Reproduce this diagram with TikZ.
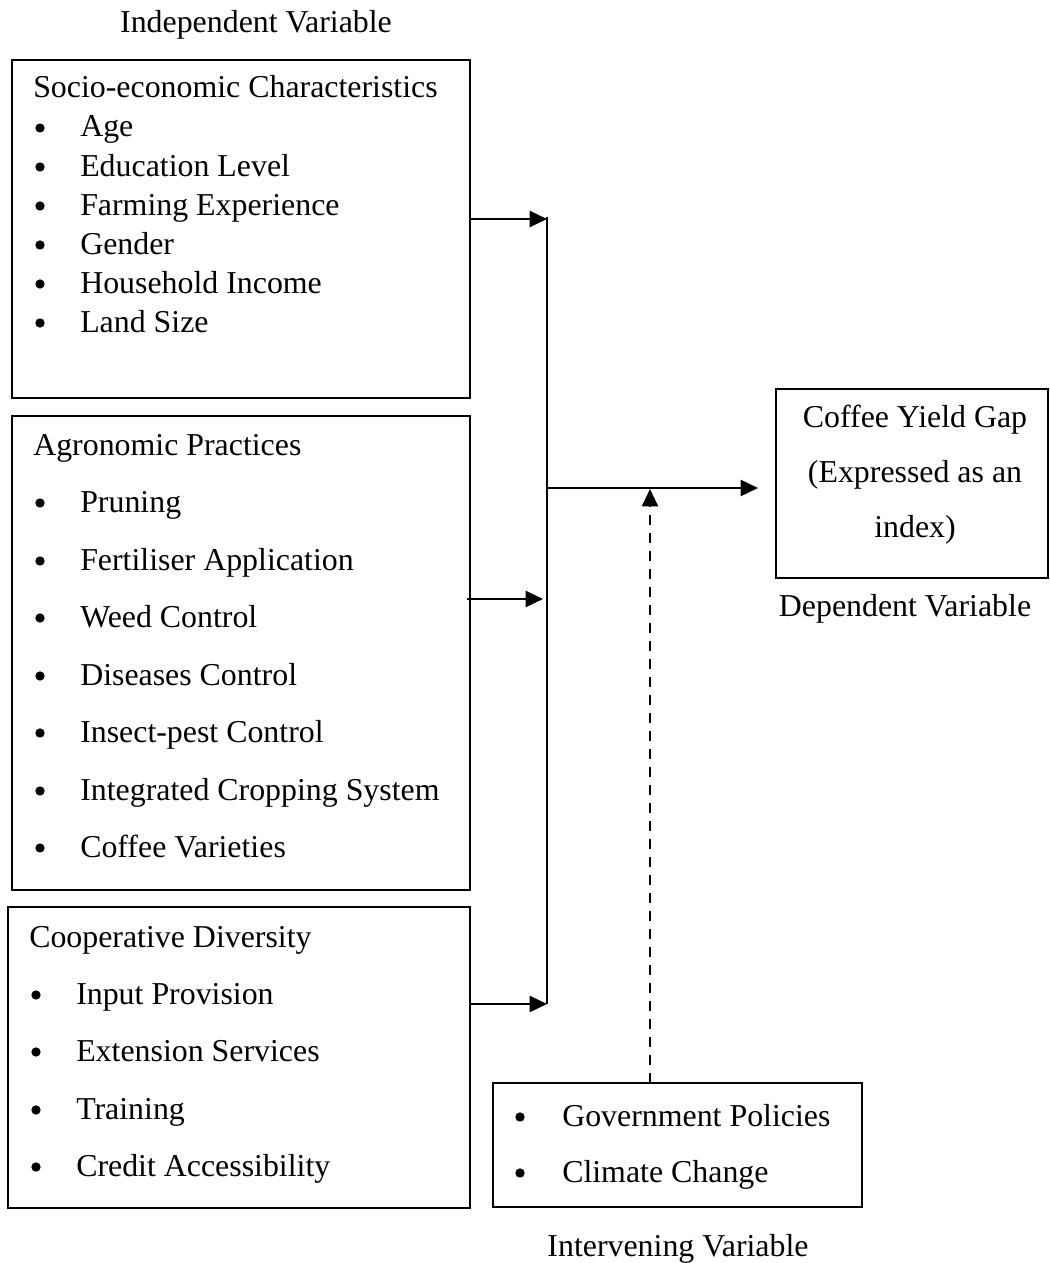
\documentclass[tikz,border=0pt]{standalone}
\usepackage{fontspec}
\setmainfont{Liberation Serif}
\usetikzlibrary{arrows.meta}
\begin{document}
\begin{tikzpicture}[x=0.75pt,y=-0.75pt,
  font=\fontsize{23.9}{29}\selectfont,
  boxstyle/.style={draw,line width=0.8pt,inner sep=0pt,outer sep=0pt},
  txt/.style={anchor=base west,inner sep=0pt},
  dot/.style={circle,fill,inner sep=0pt,minimum size=7pt},
  lbl/.style={inner sep=0pt},
  arr/.style={line width=1.9pt,-{Triangle[length=13pt,width=12pt]}},
  vline/.style={line width=1.1pt},
  dasharr/.style={line width=1.5pt,dash pattern=on 7.5pt off 6pt,-{Triangle[length=13pt,width=12pt]}}]
\useasboundingbox (0,0) rectangle (1049,1263);
% boxes
\node[boxstyle,minimum width=458*0.75pt,minimum height=338*0.75pt] (box1) at (241,229) {};
\node[boxstyle,minimum width=458*0.75pt,minimum height=474*0.75pt] (box2) at (241,653) {};
\node[boxstyle,minimum width=462*0.75pt,minimum height=301*0.75pt] (box3) at (239,1057.5) {};
\node[boxstyle,minimum width=272*0.75pt,minimum height=189*0.75pt] (box4) at (912,483.5) {};
\node[boxstyle,minimum width=369*0.75pt,minimum height=124*0.75pt] (box5) at (677.5,1145) {};
% labels
\node[lbl] (indep) at (256,25) {Independent Variable};
\node[lbl] (dep) at (905,609) {Dependent Variable};
\node[lbl] (interv) at (678,1249) {Intervening Variable};
% box1 text
\node[txt] (t1h) at (33,98) {Socio-economic Characteristics};
\foreach \y/\t [count=\i] in {137/Age,176/Education Level,215/Farming Experience,254/Gender,293/Household Income,332/Land Size}{
  \node[dot] (b1b\i) at (40,\y-9) {};
  \node[txt] (b1t\i) at (80,\y) {\t};
}
% box2 text
\node[txt] (t2h) at (33,455) {Agronomic Practices};
\foreach \y/\t [count=\i] in {512/Pruning,570/Fertiliser Application,627/Weed Control,685/Diseases Control,742/Insect-pest Control,800/Integrated Cropping System,857/Coffee Varieties}{
  \node[dot] (b2b\i) at (40,\y-9) {};
  \node[txt] (b2t\i) at (80,\y) {\t};
}
% box3 text
\node[txt] (t3h) at (29,947) {Cooperative Diversity};
\foreach \y/\t [count=\i] in {1004/Input Provision,1061/Extension Services,1119/Training,1176/Credit Accessibility}{
  \node[dot] (b3b\i) at (36,\y-9) {};
  \node[txt] (b3t\i) at (76,\y) {\t};
}
% box4 text
\node[lbl] (c1) at (915,420) {Coffee Yield Gap};
\node[lbl] (c2) at (915,475) {(Expressed as an};
\node[lbl] (c3) at (915,530) {index)};
% box5 text
\node[dot] (b5b1) at (520,1117) {};
\node[txt] (b5t1) at (562,1126) {Government Policies};
\node[dot] (b5b2) at (520,1173) {};
\node[txt] (b5t2) at (562,1182) {Climate Change};
% connectors
\coordinate (j1) at (547,219);
\coordinate (j2) at (543,599);
\coordinate (j3) at (547,1004);
\coordinate (jt) at (547,217);
\coordinate (jm) at (547,488);
\coordinate (tip) at (758,488);
\coordinate (dm) at (650,489);
\draw[vline] (jt) -- (j3);
\draw[arr] (box1.east |- j1) -- (j1);
\draw[arr] ([xshift=-2pt]box2.east |- j2) -- (j2);
\draw[arr] (box3.east |- j3) -- (j3);
\draw[arr] (jm) -- (tip);
\draw[dasharr] (box5.north -| dm) -- (dm);
\end{tikzpicture}
\end{document}
